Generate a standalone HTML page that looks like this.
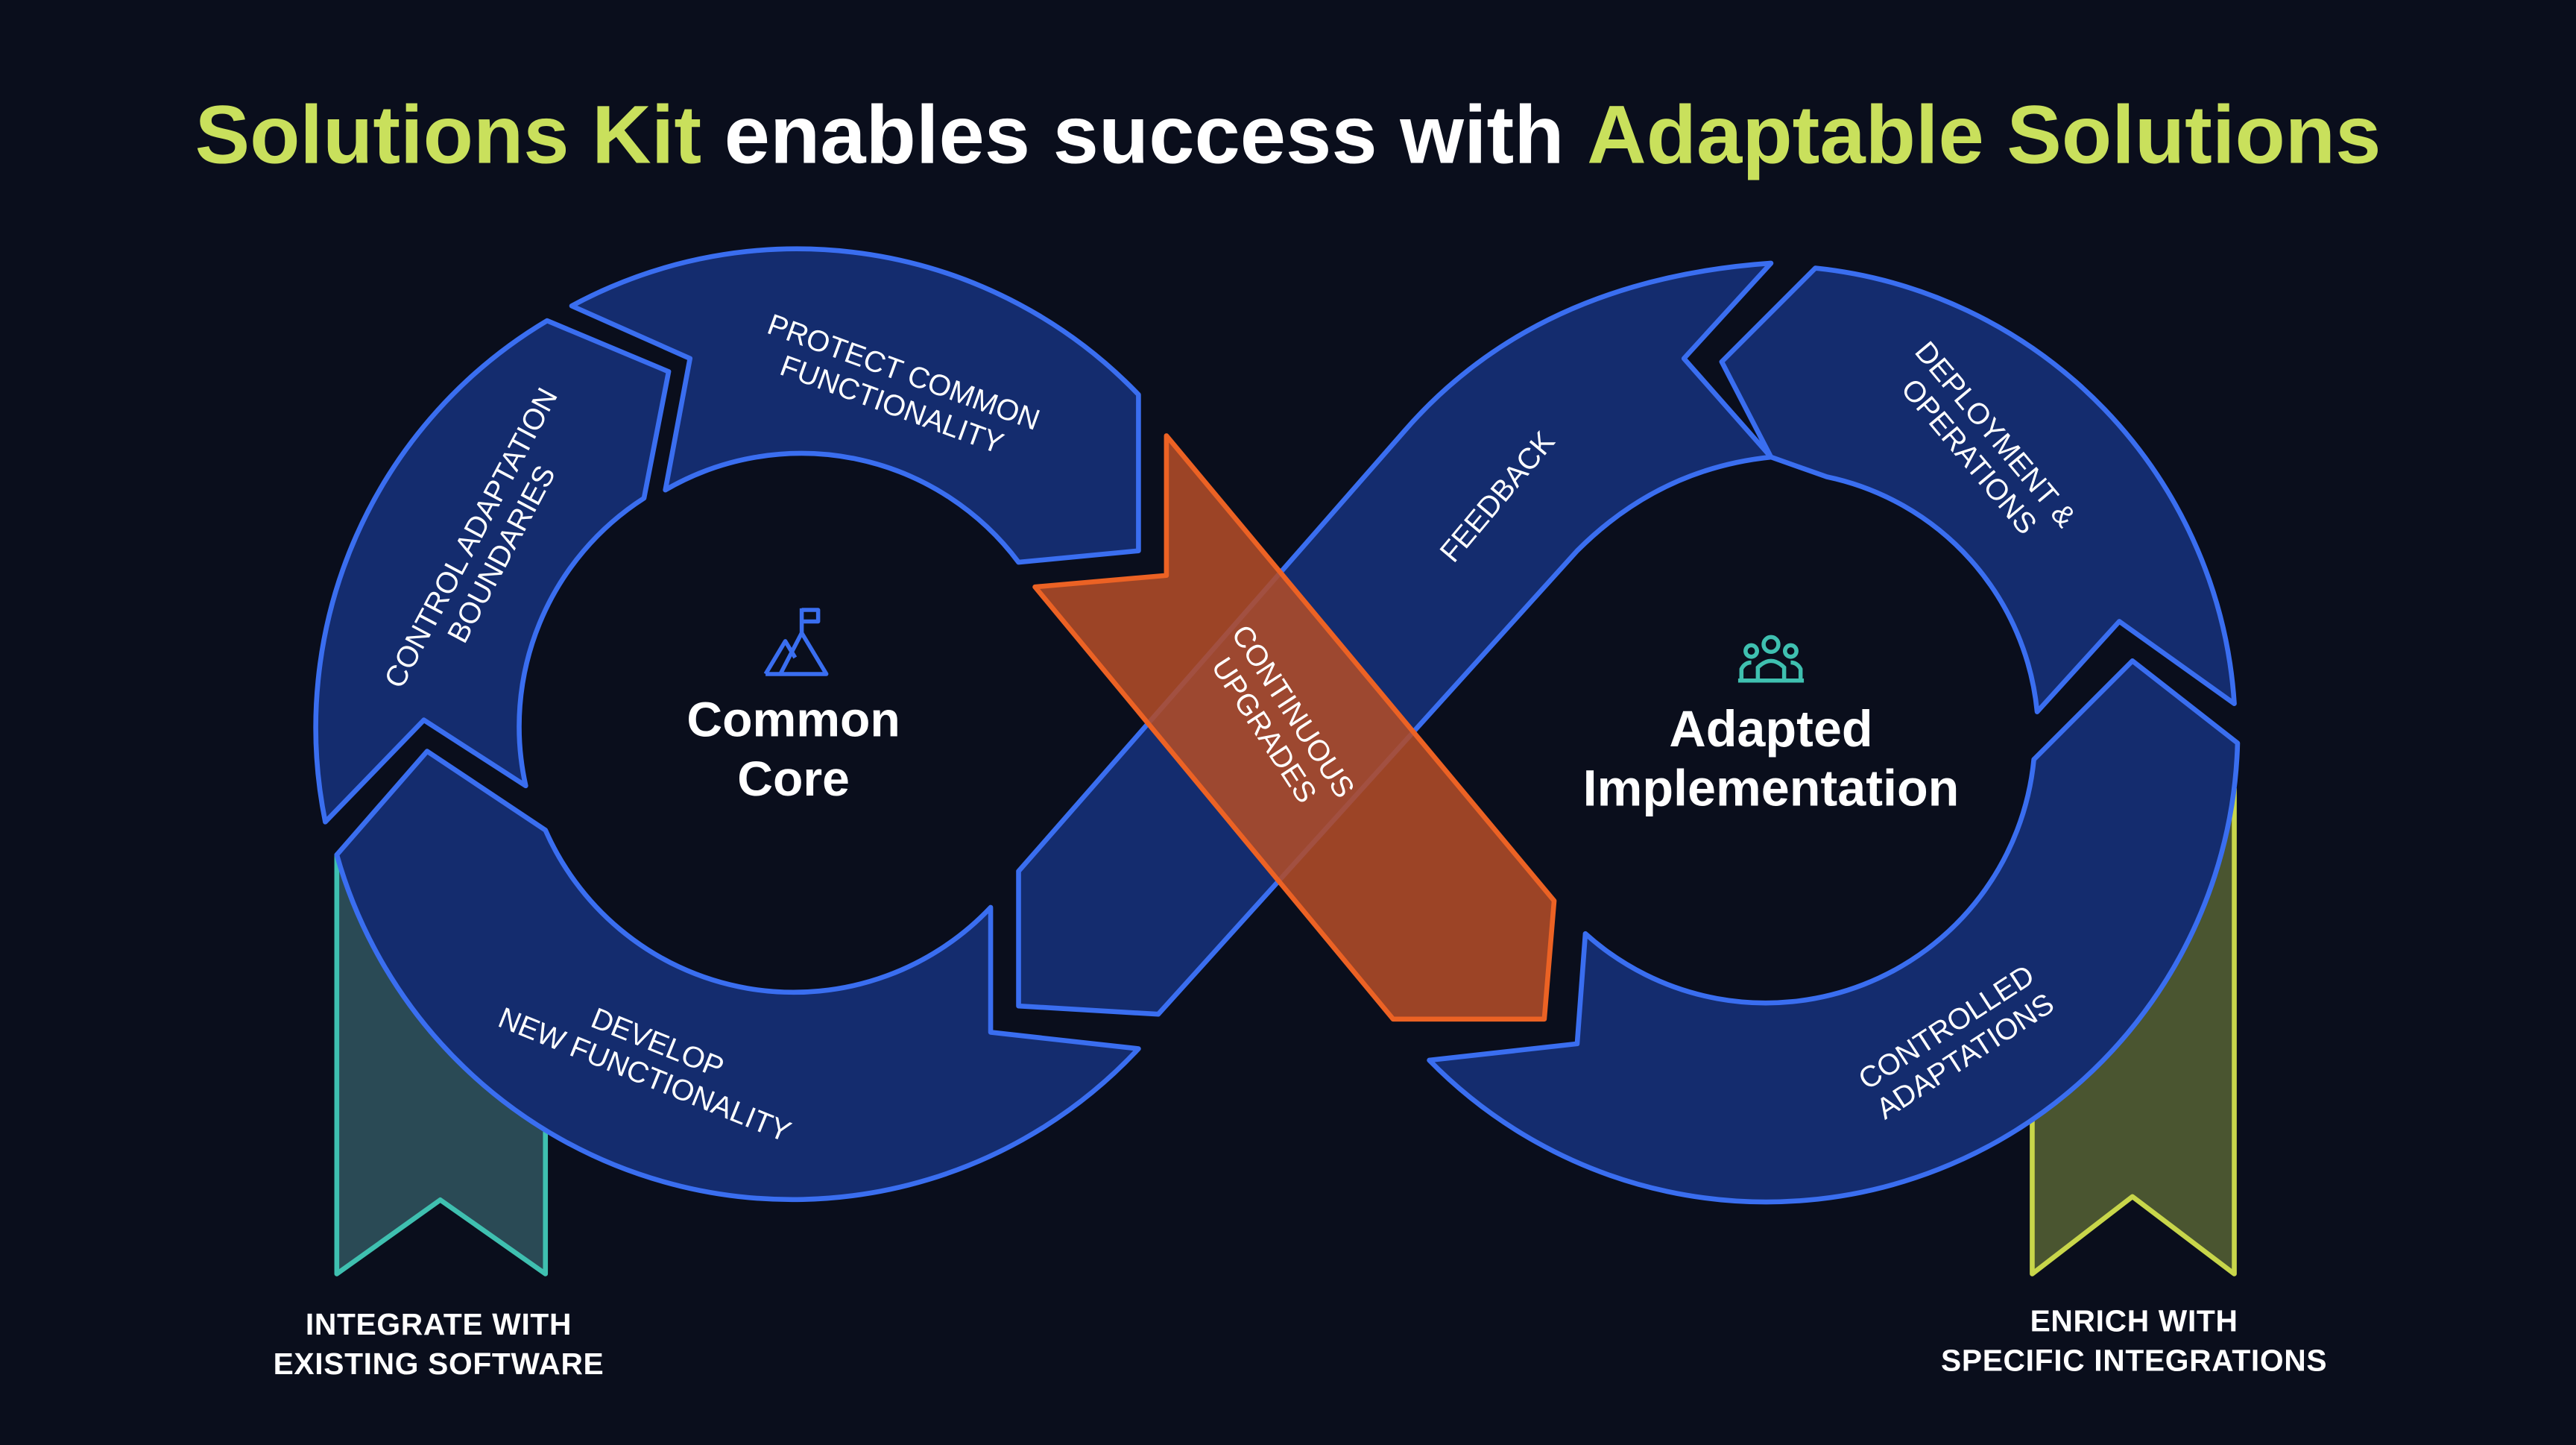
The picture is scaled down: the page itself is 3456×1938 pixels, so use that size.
<!DOCTYPE html>
<html><head><meta charset="utf-8"><style>
html,body{margin:0;padding:0;background:#0a0e1c;}
svg{display:block}
</style></head><body>
<svg width="3456" height="1938" viewBox="0 0 1568 879" xmlns="http://www.w3.org/2000/svg" font-family="'Liberation Sans', sans-serif">
<rect width="1568" height="879" fill="#0a0e1c"/>
<text x="784" y="99" text-anchor="middle" font-size="50" font-weight="bold" fill="#fff"><tspan fill="#c9e05c">Solutions Kit</tspan> enables success with <tspan fill="#c9e05c">Adaptable Solutions</tspan></text>

<!-- ribbons -->
<path d="M205,520 L332,560 L332,775 L268,730 L205,775 Z" fill="#2a4a55" stroke="#3fc0b0" stroke-width="3" stroke-linejoin="round"/>
<path d="M1237,640 L1360,480 L1360,775 L1298,728 L1237,775 Z" fill="#4a5530" stroke="#c8d64a" stroke-width="3" stroke-linejoin="round"/>

<g fill="#142c6e" stroke="#3a6ef0" stroke-width="3" stroke-linejoin="round">
<path d="M348,186 A288,288 0 0,1 693,240 L693,335 L620,342 A165,165 0 0,0 405,298 L420,218 Z"/>
<path d="M333,195 L407,226 L392,303 A165,165 0 0,0 320,478 L258,438 L198,500 A288,288 0 0,1 333,195 Z"/>
<path d="M205,520 L260,457 L332,505 A165,165 0 0,0 603,552 L603,628 L693,638 A288,288 0 0,1 205,520 Z"/>
<path d="M1105,163 A285,285 0 0,1 1360,428 L1290,378 L1240,433 A162,162 0 0,0 1112,290 L1078,278 L1048,220 Z"/>
<path d="M1298,402 L1362,452 A287,287 0 0,1 870,645 L960,635 L965,568 A164,164 0 0,0 1238,462 Z"/>
<path d="M620,530 L620,612 L705,617 L960,335 Q1010,285 1078,278 L1025,218 L1078,160 Q935,170 855,262 Z"/>
</g>

<path d="M710,265 L946,548 L940,620 L848,620 L630,357 L710,350 Z" fill="#b04c28" fill-opacity="0.88" stroke="#ec6224" stroke-width="3" stroke-linejoin="round"/>

<g fill="#fff" font-size="18" text-anchor="middle" font-weight="500">
<text transform="translate(548,232) rotate(20)"><tspan x="0" y="0">PROTECT COMMON</tspan><tspan x="0" y="21">FUNCTIONALITY</tspan></text>
<text transform="translate(292,330) rotate(-62)"><tspan x="0" y="0">CONTROL ADAPTATION</tspan><tspan x="0" y="21">BOUNDARIES</tspan></text>
<text transform="translate(398,640) rotate(22)"><tspan x="0" y="0">DEVELOP</tspan><tspan x="0" y="21">NEW FUNCTIONALITY</tspan></text>
<text transform="translate(916,306) rotate(-50)">FEEDBACK</text>
<text transform="translate(1210,268) rotate(50)"><tspan x="0" y="0">DEPLOYMENT &amp;</tspan><tspan x="0" y="21">OPERATIONS</tspan></text>
<text transform="translate(1188,630) rotate(-33)"><tspan x="0" y="0">CONTROLLED</tspan><tspan x="0" y="21">ADAPTATIONS</tspan></text>
<text transform="translate(782,436) rotate(57)"><tspan x="0" y="0">CONTINUOUS</tspan><tspan x="0" y="21">UPGRADES</tspan></text>
</g>
<g fill="#fff" font-size="18.5" text-anchor="middle" font-weight="bold" letter-spacing="0.3">
<text x="267" y="812">INTEGRATE WITH</text>
<text x="267" y="836">EXISTING SOFTWARE</text>
<text x="1299" y="810">ENRICH WITH</text>
<text x="1299" y="834">SPECIFIC INTEGRATIONS</text>
</g>

<g fill="#fff" font-weight="bold" text-anchor="middle">
<text x="483" y="448" font-size="30">Common</text>
<text x="483" y="484" font-size="30">Core</text>
<text x="1078" y="454" font-size="31">Adapted</text>
<text x="1078" y="490" font-size="31">Implementation</text>
</g>

<!-- mountain icon -->
<g fill="none" stroke="#3a6ef0" stroke-width="2.5" stroke-linejoin="round">
<path d="M466,410 L478,390 L484,400 M475,410 L488,385 L503,410 Z M466,410 L503,410"/>
<path d="M488,385 L488,370 M488,371 L498,371 L498,378 L488,378"/>
</g>
<!-- people icon -->
<g fill="none" stroke="#3fc0b0" stroke-width="2.5">
<circle cx="1078" cy="392" r="4.5"/>
<circle cx="1066" cy="396" r="3.5"/>
<circle cx="1090" cy="396" r="3.5"/>
<path d="M1070,414 L1070,406 Q1078,398 1086,406 L1086,414"/>
<path d="M1060,414 L1060,407 Q1062,403 1066,403"/>
<path d="M1096,414 L1096,407 Q1094,403 1090,403"/>
<path d="M1058,414 L1098,414"/>
</g>
</svg>
</body></html>
